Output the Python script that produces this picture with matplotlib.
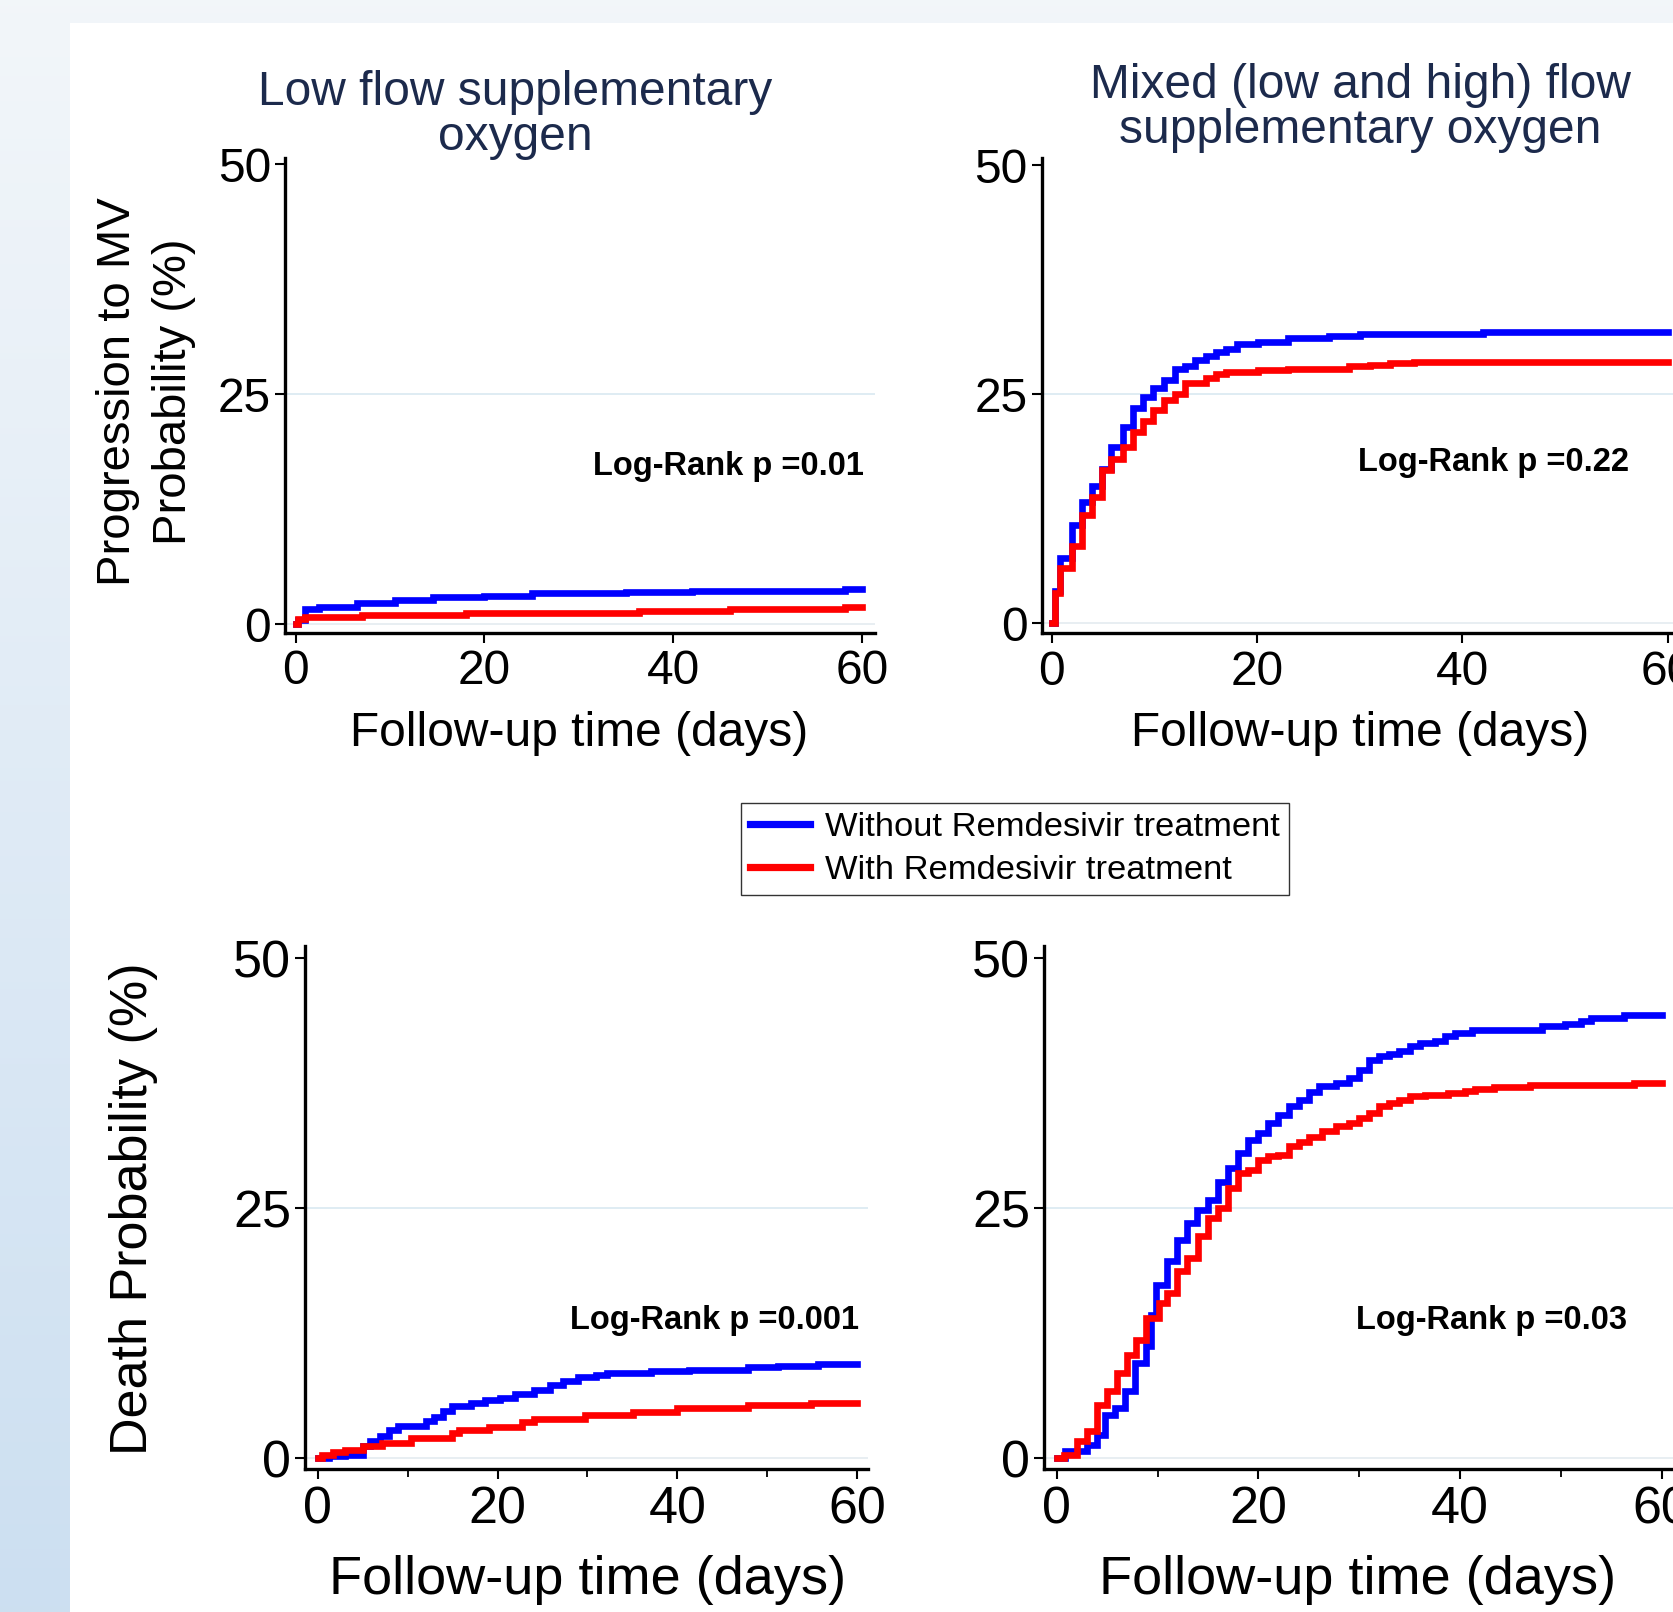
import matplotlib
matplotlib.use("Agg")
import matplotlib.pyplot as plt
from matplotlib.patches import Rectangle
import numpy as np

W, H = 1673, 1612
plt.rcParams['font.family'] = ['Liberation Sans', 'DejaVu Sans']

# ---- data ----
# progression to MV, low flow
mv_low_t_without = [0, 0.3, 1, 2.5, 6.5, 10.5, 14.5, 20, 25, 35, 42, 58.2, 60]
mv_low_s_without = [0, 0.5, 1.7, 1.9, 2.3, 2.6, 2.9, 3.1, 3.35, 3.5, 3.65, 3.85, 3.85]
mv_low_t_with = [0, 0.3, 1, 7, 18, 36.4, 46, 58.2, 60]
mv_low_s_with = [0, 0.6, 0.8, 1.0, 1.2, 1.45, 1.6, 1.85, 1.85]

# progression to MV, mixed flow
mv_mix_t_without = [0, 0.3, 0.8, 1.95, 2.9, 3.9, 4.9, 5.8, 6.9, 7.9, 8.9, 9.9, 10.9, 12, 13,
                    14, 15, 16, 17, 18, 20.1, 23, 27, 30, 42, 60]
mv_mix_s_without = [0, 3.5, 7.1, 10.7, 13.2, 15.0, 16.8, 19.2, 21.4, 23.5, 24.7, 25.7, 26.6, 27.8, 28.1,
                    28.7, 29.2, 29.6, 30.0, 30.5, 30.7, 31.1, 31.4, 31.6, 31.8, 31.8]
mv_mix_t_with = [0, 0.3, 0.8, 1.95, 2.9, 3.9, 4.9, 5.8, 6.9, 7.9, 8.9, 9.9, 10.9, 12, 13,
                 15, 16, 17, 20.1, 23, 29, 31, 33, 35.3, 60]
mv_mix_s_with = [0, 3.3, 6.0, 8.4, 11.8, 13.8, 16.7, 17.9, 19.3, 20.9, 22.1, 23.3, 24.4, 25.0, 26.2,
                 26.8, 27.2, 27.4, 27.7, 27.8, 28.05, 28.2, 28.4, 28.55, 28.55]

# death, low flow
d_low_t_without = [0, 1.3, 3, 5, 5.8, 6.9, 7.9, 8.9, 12, 12.9, 13.9, 14.9, 17, 18.6, 20.3, 21.9,
                   24, 25.8, 27.3, 28.9, 31, 32.2, 37.1, 41.3, 47.9, 51.2, 55.7, 60]
d_low_s_without = [0, 0.2, 0.35, 1.2, 1.7, 2.2, 2.8, 3.2, 3.7, 4.1, 4.7, 5.2, 5.5, 5.8, 6.0, 6.4,
                   6.8, 7.3, 7.7, 8.1, 8.3, 8.5, 8.7, 8.8, 9.1, 9.2, 9.4, 9.4]
d_low_t_with = [0, 0.5, 1.7, 3, 5, 7.1, 10.4, 14.9, 15.7, 19, 22.7, 24, 29.7, 35.1, 40, 47.9, 54.9, 60]
d_low_s_with = [0, 0.3, 0.65, 0.85, 1.2, 1.55, 2.0, 2.5, 2.8, 3.15, 3.65, 3.9, 4.3, 4.65, 5.0, 5.3, 5.55, 5.55]

# death, mixed flow
d_mix_t_without = [0, 0.8, 3, 4, 4.8, 5.8, 6.8, 7.8, 8.9, 9.4, 9.9, 10.9, 11.9, 12.9, 13.9, 15, 16, 17,
                   18, 19, 20, 21, 22, 23, 24, 25, 26, 27.7, 29, 30, 31, 32, 33, 34, 35, 36,
                   37.5, 38.5, 39.5, 41.2, 48.1, 50.4, 52, 53, 56.3, 60]
d_mix_s_without = [0, 0.7, 1.3, 2.3, 4.3, 5.0, 6.7, 9.5, 11.2, 14.3, 17.3, 19.7, 21.8, 23.5, 24.8, 25.8, 27.6, 29.0,
                   30.5, 31.8, 32.5, 33.5, 34.3, 35.2, 35.8, 36.6, 37.2, 37.5, 38.0, 38.8, 39.8, 40.2, 40.4, 40.7, 41.2, 41.5,
                   41.7, 42.2, 42.5, 42.8, 43.2, 43.4, 43.7, 44.0, 44.3, 44.3]
d_mix_t_with = [0, 0.7, 2, 3, 4, 5, 6, 7, 7.9, 8.9, 10.1, 10.9, 11.9, 12.9, 14, 15, 16, 17, 18, 19,
                20, 21, 22, 23, 24, 25, 26.3, 27.7, 29, 30, 31, 32, 33, 34, 35, 36.5, 38.8, 40.5,
                41.5, 43.4, 47, 57.3, 60]
d_mix_s_with = [0, 0.3, 1.7, 2.7, 5.3, 6.7, 8.5, 10.3, 11.8, 14.0, 15.5, 16.5, 18.7, 20.0, 22.2, 24.0, 25.0, 27.0, 28.5, 28.8,
                29.8, 30.2, 30.3, 31.2, 31.6, 32.1, 32.7, 33.2, 33.5, 34.0, 34.5, 35.2, 35.5, 35.8, 36.2, 36.3, 36.5, 36.7,
                36.9, 37.1, 37.3, 37.5, 37.5]

labels = ["Without Remdesivir treatment", "With Remdesivir treatment"]
pvals = ["Log-Rank p =0.01", "Log-Rank p =0.22", "Log-Rank p =0.001", "Log-Rank p =0.03"]
titles = ["Low flow supplementary\noxygen", "Mixed (low and high) flow\nsupplementary oxygen"]
yticks = [0, 25, 50]
xticks = [0, 20, 40, 60]


def fx(px):
    return px / W


def fy(py):
    return 1 - py / H


def box(l, r, t, b):
    # axes rect from pixel edges
    return [fx(l), fy(b), (r - l) / W, (b - t) / H]


fig = plt.figure(figsize=(W / 100, H / 100), dpi=100)

# backdrop: pale blue gradient with a white sheet on top
bg = fig.add_axes([0, 0, 1, 1], zorder=-10)
grad = np.linspace(0, 1, 256)[:, None]
top = np.array([0.95, 0.965, 0.98])
bot = np.array([0.80, 0.875, 0.945])
img = top[None, None, :] * (1 - grad[:, :, None]) + bot[None, None, :] * grad[:, :, None]
bg.imshow(img, aspect='auto', extent=[0, 1, 0, 1])
bg.set_axis_off()
fig.patches.append(Rectangle((fx(70), 0), 1, fy(23), transform=fig.transFigure,
                             facecolor='white', edgecolor='none', zorder=-9))

panels = [
    (box(284.9, 875, 158, 632.7), (-1.13, 61.35), (-0.93, 50.7),
     mv_low_t_without, mv_low_s_without, mv_low_t_with, mv_low_s_with, 34.5, False),
    (box(1041.5, 1682, 158, 633.3), (-1.0, 61.4), (-1.09, 50.8),
     mv_mix_t_without, mv_mix_s_without, mv_mix_t_with, mv_mix_s_with, 34.5, False),
    (box(305.2, 867.9, 946.4, 1469.3), (-1.4, 61.2), (-1.1, 51.2),
     d_low_t_without, d_low_s_without, d_low_t_with, d_low_s_with, 37.5, True),
    (box(1044, 1681.7, 946.4, 1469.3), (-1.26, 62), (-1.1, 51.2),
     d_mix_t_without, d_mix_s_without, d_mix_t_with, d_mix_s_with, 37.5, True),
]

handles = None
for i, (rect, xl, yl, t1, s1, t2, s2, fs, minor) in enumerate(panels):
    ax = fig.add_axes(rect)
    ax.set_facecolor('none')
    ax.axhline(25, color='#dcebf2', lw=1.3, zorder=0)
    ax.axhline(0, color='#e6edf1', lw=1.3, zorder=0)
    h1, = ax.plot(t1, s1, drawstyle='steps-post', color='#0000ff', lw=4.8, solid_joinstyle='miter')
    h2, = ax.plot(t2, s2, drawstyle='steps-post', color='#ff0000', lw=4.8, solid_joinstyle='miter')
    if handles is None:
        handles = [h1, h2]
    ax.set_xlim(*xl)
    ax.set_ylim(*yl)
    ax.set_xticks(xticks)
    ax.set_yticks(yticks)
    if minor:
        ax.set_xticks([10, 30, 50], minor=True)
        ax.tick_params(axis='x', which='minor', length=6, width=1.3, direction='out')
    ax.tick_params(axis='both', which='major', labelsize=fs, length=7, width=1.5,
                   direction='out', pad=3)
    ax.tick_params(axis='x', pad=5)
    for side in ['top', 'right']:
        ax.spines[side].set_visible(False)
    for side in ['left', 'bottom']:
        ax.spines[side].set_linewidth(2.4)

# titles
fig.text(fx(515), fy(115), titles[0], ha='center', va='center', fontsize=34.5,
         color='#1c2a4c', linespacing=1.02, multialignment='center')
fig.text(fx(1360), fy(108), titles[1], ha='center', va='center', fontsize=34.5,
         color='#1c2a4c', linespacing=1.02, multialignment='center')

# axis titles
fig.text(fx(146), fy(392), "Progression to MV\nProbability (%)", rotation=90,
         ha='center', va='center', fontsize=34, linespacing=1.35, multialignment='center')
fig.text(fx(133), fy(1209), "Death Probability (%)", rotation=90,
         ha='center', va='center', fontsize=37.5)
for cx, cy, fs in [(579, 734, 34.5), (1360, 734, 34.5), (588, 1580, 39), (1358, 1580, 39)]:
    fig.text(fx(cx), fy(cy), "Follow-up time (days)", ha='center', va='center', fontsize=fs)

# log-rank annotations
for (rx, cy), txt in zip([(864, 467), (1629, 462), (859, 1321), (1627, 1321)], pvals):
    fig.text(fx(rx), fy(cy), txt, ha='right', va='center', fontsize=23.5, fontweight='bold')

# legend
leg = fig.legend(handles, labels, loc='center', bbox_to_anchor=(fx(1015), fy(849)),
                 fontsize=24.8, frameon=True, fancybox=False, handlelength=1.75,
                 handletextpad=0.45, labelspacing=0.36, borderpad=0.25, borderaxespad=0)
leg.get_frame().set_edgecolor('black')
leg.get_frame().set_linewidth(1.0)
for ln in leg.get_lines():
    ln.set_linewidth(5.2)

fig.savefig("out.png", dpi=100)
